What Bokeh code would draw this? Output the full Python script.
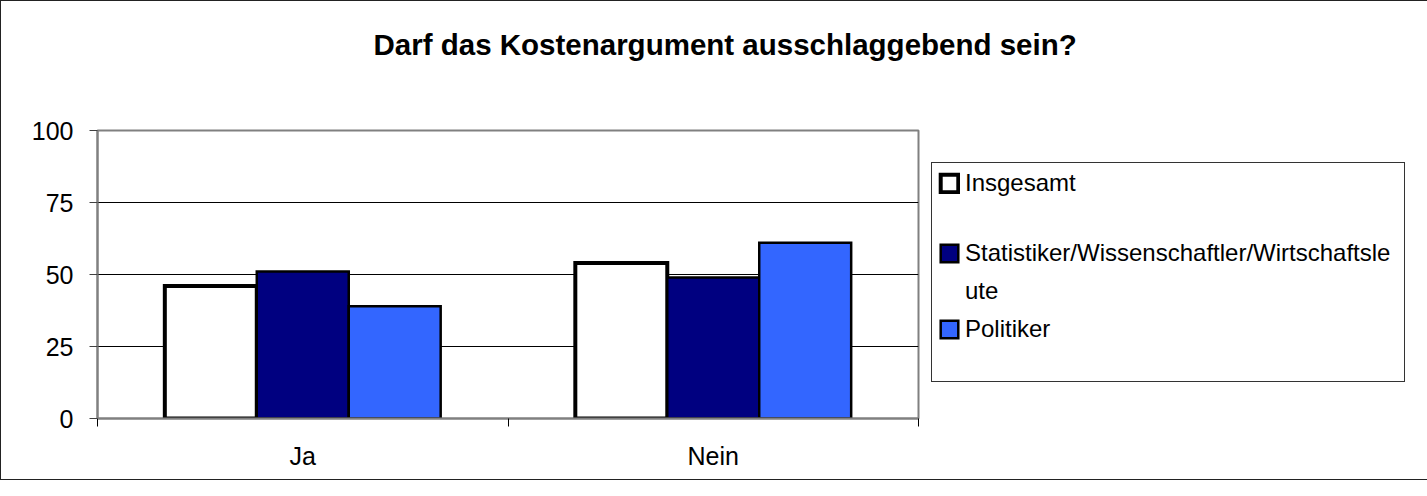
from bokeh.plotting import figure
from bokeh.models import Range1d, FixedTicker, Legend, LegendItem, Title
from bokeh.embed import file_html
from bokeh.resources import INLINE

# ---- data ----
title = "Darf das Kostenargument ausschlaggebend sein?"
categories = ["Ja", "Nein"]
series = ["Insgesamt", "Statistiker/Wissenschaftler/Wirtschaftsleute", "Politiker"]
insgesamt = [46, 54]
statistiker = [51, 49]
politiker = [39, 61]
y_ticks = [0, 25, 50, 75, 100]

values = [insgesamt, statistiker, politiker]
colors = ["#FFFFFF", "#000080", "#3366FF"]
line_widths = [4, 2.5, 2.5]
bar_width = 0.224
offsets = [-bar_width, 0.0, bar_width]

FONT = "Liberation Sans"

p = figure(frame_width=821, frame_height=288,
           x_range=Range1d(0, len(categories)), y_range=Range1d(0, 100),
           output_backend="svg", toolbar_location=None,
           min_border_left=96, min_border_right=0,
           min_border_top=129, min_border_bottom=61)
p.styles = {"border": "1px solid #222222"}
p.background_fill_color = "white"
p.border_fill_color = "white"
p.outline_line_color = "#808080"
p.outline_line_width = 2

p.title.text = title
p.title.align = "left"
p.title.offset = 276
p.title.standoff = 10
p.title.text_font = FONT
p.title.text_font_style = "bold"
p.title.text_font_size = "29.5px"
p.title.text_color = "black"

# empty spacer between the title and the plot area
p.add_layout(Title(text=" ", text_font_size="10px", standoff=52), "above")

renderers = []
for i, vals in enumerate(values):
    xs = [c + 0.5 + offsets[i] for c in range(len(categories))]
    r = p.vbar(x=xs, top=vals, bottom=0, width=bar_width,
               fill_color=colors[i], line_color="black",
               line_width=line_widths[i], line_join="miter")
    renderers.append(r)

blank = p.vbar(x=[], top=[], width=bar_width, fill_alpha=0, line_alpha=0)

# axes
p.yaxis.ticker = FixedTicker(ticks=y_ticks)
p.yaxis.major_tick_out = 8
p.yaxis.major_tick_in = 0
p.yaxis.minor_tick_out = 0
p.yaxis.minor_tick_in = 0
p.yaxis.major_label_standoff = 16
p.yaxis.axis_line_color = "#808080"
p.yaxis.axis_line_width = 2
p.yaxis.major_tick_line_color = "#404040"

centers = [c + 0.5 for c in range(len(categories))]
bounds = [float(c) for c in range(len(categories) + 1)]
p.xaxis.ticker = FixedTicker(ticks=centers, minor_ticks=bounds)
p.xaxis.major_label_overrides = {c: lab for c, lab in zip(centers, categories)}
p.xaxis.major_tick_out = 0
p.xaxis.major_tick_in = 0
p.xaxis.minor_tick_out = 8
p.xaxis.minor_tick_in = 0
p.xaxis.minor_tick_line_color = "black"
p.xaxis.major_label_standoff = 15
p.xaxis.axis_line_color = "#808080"
p.xaxis.axis_line_width = 2

for ax in (p.xaxis, p.yaxis):
    ax.major_label_text_font = FONT
    ax.major_label_text_font_size = "25px"
    ax.major_label_text_color = "black"

p.xgrid.visible = False
p.ygrid.ticker = FixedTicker(ticks=y_ticks[1:-1])
p.ygrid.grid_line_color = "black"
p.ygrid.grid_line_width = 1

# legend
split = 41
items = [
    LegendItem(label=series[0], renderers=[renderers[0]]),
    LegendItem(label=" ", renderers=[blank]),
    LegendItem(label=series[1][:split], renderers=[renderers[1]]),
    LegendItem(label=series[1][split:], renderers=[blank]),
    LegendItem(label=series[2], renderers=[renderers[2]]),
    LegendItem(label=" ", renderers=[blank]),
]
legend = Legend(items=items, location=(13, 36), padding=6, spacing=10,
                glyph_width=22, glyph_height=22, label_standoff=5,
                label_text_font=FONT, label_text_font_size="24px",
                label_text_color="black",
                label_width=433, margin=2,
                border_line_color="#333333", border_line_width=1,
                border_line_alpha=1,
                background_fill_color="white", background_fill_alpha=1)
p.add_layout(legend, "right")

open("out.html", "w").write(file_html(p, INLINE))
